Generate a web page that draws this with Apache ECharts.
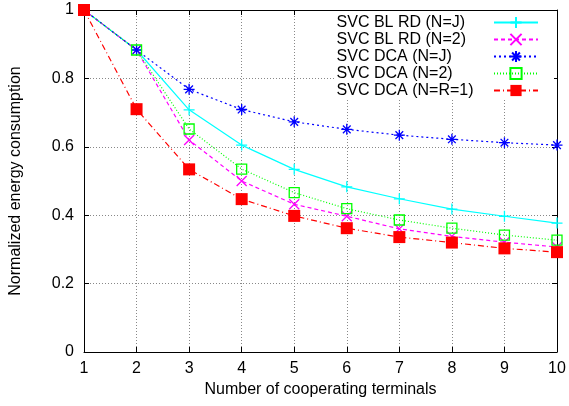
<!DOCTYPE html>
<html>
<head>
<meta charset="utf-8">
<script src="https://cdn.jsdelivr.net/npm/echarts@6/dist/echarts.min.js"></script>
<style>
  html, body { margin: 0; padding: 0; background: #fff; }
  #chart { width: 569px; height: 406px; }
</style>
</head>
<body>
<div id="chart"></div>
<script>
const terminals = [1, 2, 3, 4, 5, 6, 7, 8, 9, 10];
const yTicks = [0, 0.2, 0.4, 0.6, 0.8, 1];

const blRdJ = [1, 0.883, 0.708, 0.605, 0.534, 0.483, 0.448, 0.418, 0.397, 0.377];
const blRd2 = [1, 0.883, 0.620, 0.500, 0.432, 0.397, 0.360, 0.338, 0.321, 0.307];
const dcaJ = [1, 0.883, 0.768, 0.709, 0.673, 0.651, 0.634, 0.622, 0.612, 0.605];
const dca2 = [1, 0.883, 0.652, 0.535, 0.466, 0.419, 0.386, 0.362, 0.342, 0.327];
const dcaR1 = [1, 0.710, 0.534, 0.447, 0.398, 0.362, 0.336, 0.320, 0.303, 0.292];

const font = "'Liberation Sans', Arial, sans-serif";

const plusPath = 'path://M0,5L10,5M5,0L5,10';
const crossPath = 'path://M0,0L10,10M10,0L0,10';
const starPath = 'path://M0,5L10,5M5,0L5,10M1.5,1.5L8.5,8.5M8.5,1.5L1.5,8.5';
const boxPath = 'path://M0,0L10,0L10,10L0,10Z';

const pairs = vals => terminals.map((t, i) => [t, vals[i]]);

const makeSeries = (name, vals, color, lineType, symbol, size, itemStyle) => ({
    name: name,
    type: 'line',
    data: pairs(vals),
    symbol: symbol,
    symbolSize: size,
    showSymbol: true,
    animation: false,
    lineStyle: { color: color, width: 1.2, type: lineType },
    itemStyle: Object.assign({ color: color, borderColor: color, borderWidth: 1.3 }, itemStyle || {})
});

const chart = echarts.init(document.getElementById('chart'));

const axisLine = { show: true, onZero: false, lineStyle: { color: '#000', width: 1 } };
const tick = { show: true, inside: true, length: 5, lineStyle: { color: '#000' } };

chart.setOption({
    backgroundColor: '#fff',
    animation: false,
    textStyle: { fontFamily: font },
    grid: { left: 82, right: 12, top: 10, bottom: 54, containLabel: false },
    // white box behind the key, hides the grid there
    graphic: [{
        type: 'rect', left: 336, top: 11, z: 1,
        shape: { width: 218, height: 87 },
        style: { fill: '#fff' }
    }],
    legend: [
        {
            // key labels, left-aligned
            orient: 'vertical', left: 325, top: 14,
            itemWidth: 0, itemHeight: 14, itemGap: 0,
            itemStyle: { opacity: 0 }, lineStyle: { opacity: 0 },
            textStyle: { fontFamily: font, fontSize: 16, lineHeight: 17, color: '#000' },
            padding: 0
        },
        {
            // key samples
            orient: 'vertical', left: 493, top: 14,
            itemWidth: 44, itemHeight: 14, itemGap: 0,
            formatter: () => ' ',
            textStyle: { fontFamily: font, fontSize: 16, lineHeight: 17, color: '#000' },
            padding: 0
        }
    ],
    xAxis: [
        {
            type: 'value', min: 1, max: 10, interval: 1,
            name: 'Number of cooperating terminals',
            nameLocation: 'middle', nameGap: 30,
            nameTextStyle: { fontFamily: font, fontSize: 16, color: '#000' },
            axisLine: axisLine, axisTick: tick,
            axisLabel: { color: '#000', fontSize: 16, fontFamily: font, margin: 9 },
            splitLine: { show: true, lineStyle: { color: '#888', type: [1, 2], width: 1 } }
        },
        {
            type: 'value', min: 1, max: 10, interval: 1, position: 'top',
            axisLine: axisLine, axisTick: tick, axisLabel: { show: false }, splitLine: { show: false }
        }
    ],
    yAxis: [
        {
            type: 'value', min: 0, max: 1, interval: 0.2,
            name: 'Normalized energy consumption',
            nameLocation: 'middle', nameGap: 60, nameRotate: 90,
            nameTextStyle: { fontFamily: font, fontSize: 16, color: '#000' },
            axisLine: axisLine, axisTick: tick,
            axisLabel: {
                color: '#000', fontSize: 16, fontFamily: font, margin: 10,
                formatter: v => yTicks.includes(Math.round(v * 10) / 10) ? String(Math.round(v * 10) / 10) : ''
            },
            splitLine: { show: true, lineStyle: { color: '#888', type: [1, 2], width: 1 } }
        },
        {
            type: 'value', min: 0, max: 1, interval: 0.2, position: 'right',
            axisLine: axisLine, axisTick: tick, axisLabel: { show: false }, splitLine: { show: false }
        }
    ],
    series: [
        makeSeries('SVC BL RD (N=J)', blRdJ, '#00ffff', 'solid', plusPath, 11),
        makeSeries('SVC BL RD (N=2)', blRd2, '#ff00ff', [4, 3], crossPath, 10),
        makeSeries('SVC DCA (N=J)', dcaJ, '#0000ff', [2, 3], starPath, 11),
        makeSeries('SVC DCA (N=2)', dca2, '#00ff00', [1, 2], boxPath, 10, { color: 'rgba(255,255,255,0)' }),
        makeSeries('SVC DCA (N=R=1)', dcaR1, '#ff0000', [6, 3, 1, 3], 'rect', 12, { borderWidth: 0 })
    ]
});
</script>
</body>
</html>
